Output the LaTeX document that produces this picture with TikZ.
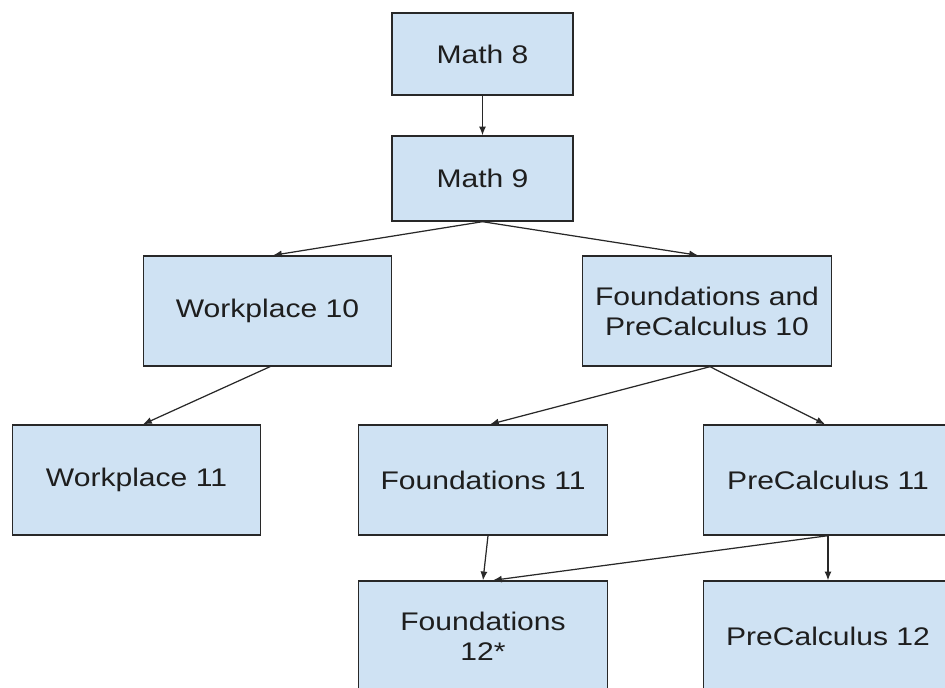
\documentclass[tikz,border=0pt]{standalone}
\usepackage{fontspec}
\setmainfont[FakeStretch=1.18]{Liberation Sans}
\usepackage{tikz}
\usetikzlibrary{arrows.meta}
\definecolor{courseblue}{RGB}{207,226,243}
\definecolor{courseline}{RGB}{40,40,40}
\definecolor{coursetext}{RGB}{30,30,30}

\begin{document}
\begin{tikzpicture}[x=0.02cm, y=-0.02cm,
    course/.style={draw=courseline, line width=0.8pt, fill=courseblue,
        text=coursetext, align=center, inner sep=0pt,
        minimum width=4.97cm, minimum height=2.2cm,
        font=\fontsize{14.5}{17}\selectfont},
    path/.style={courseline, line width=0.7pt, -{Latex[length=5pt,width=4pt]}}]
    \useasboundingbox (0,0) rectangle (945,688);
    \clip (0,0) rectangle (945,688);

    % Grades 8 and 9
    \node[course, minimum width=3.62cm, minimum height=1.64cm] (math8) at (482.5,54) {Math 8};
    \node[course, minimum width=3.62cm, minimum height=1.7cm] (math9) at (482.5,178.5) {Math 9};

    % Grade 10 split
    \node[course] (work10) at (267.5,311) {Workplace 10};
    \node[course] (fpc10) at (707,311) {Foundations and\\PreCalculus 10};

    % Grade 11
    \node[course] (work11) at (136.5,480) {Workplace 11};
    \node[course] (found11) at (483,480) {Foundations 11};
    \node[course] (pre11) at (828,480) {PreCalculus 11};

    % Grade 12
    \node[course] (found12) at (483,636) {Foundations\\12*};
    \node[course] (pre12) at (828,636) {PreCalculus 12};

    % Pathways
    \draw[path] (math8.south) -- (math9.north);
    \draw[path] (math9.south) -- ([xshift=0.11cm]work10.north);
    \draw[path] (math9.south) -- ([xshift=-0.18cm]fpc10.north);
    \draw[path] ([xshift=0.05cm]work10.south) -- ([xshift=0.13cm]work11.north);
    \draw[path] ([xshift=0.06cm]fpc10.south) -- ([xshift=0.14cm]found11.north);
    \draw[path] ([xshift=0.06cm]fpc10.south) -- ([xshift=-0.06cm]pre11.north);
    \draw[path] ([xshift=0.1cm]found11.south) -- (found12.north);
    \draw[path] (pre11.south) -- ([xshift=0.2cm]found12.north);
    \draw[path] (pre11.south) -- (pre12.north);
\end{tikzpicture}
\end{document}
